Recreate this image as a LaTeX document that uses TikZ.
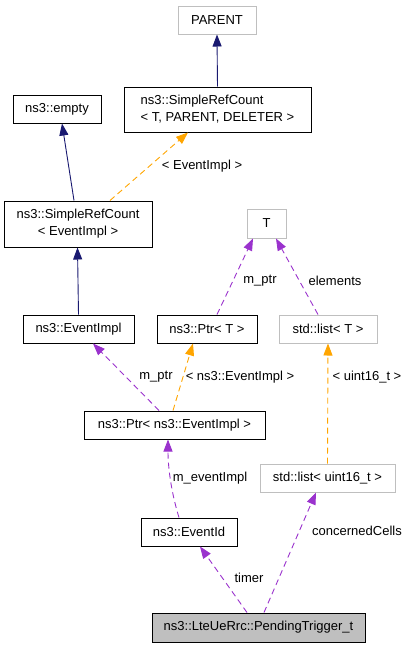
\documentclass[tikz,border=0pt]{standalone}
\usepackage{fontspec}
\setmainfont{Liberation Sans}
\usetikzlibrary{arrows.meta}
\definecolor{inhblue}{RGB}{25,25,112}
\definecolor{usepurple}{RGB}{154,50,205}
\definecolor{tplorange}{RGB}{255,165,0}
\definecolor{boxgray}{RGB}{191,191,191}
\tikzset{
  cls/.style={draw=black, line width=1pt, minimum height=28pt, inner sep=2pt, font=\fontsize{13}{17}\selectfont},
  ext/.style={cls, draw=boxgray},
  cur/.style={cls, fill=boxgray},
  tip/.style={-{Triangle[length=12pt,width=9pt]}},
  inh/.style={tip, draw=inhblue, line width=0.9pt},
  tpl/.style={tip, draw=tplorange, line width=0.9pt, dash pattern=on 6pt off 4pt},
  usage/.style={tip, draw=usepurple, line width=0.9pt, dash pattern=on 6pt off 4pt},
  elab/.style={inner sep=0pt, font=\fontsize{13}{15}\selectfont}
}
\newcommand{\elabel}[4]{\node[elab] (#1) at (#2,#3) {#4};}

\begin{document}
\begin{tikzpicture}[x=1pt,y=-1pt]
        \useasboundingbox (0,0) rectangle (409,648);
        %nodes
        \node[ext, minimum width=78pt] (parent) at (217,20) {PARENT};
        \node[cls, minimum width=187pt, minimum height=45pt, align=left] (srcTPD) at (217.5,109.5) {ns3::SimpleRefCount\\< T, PARENT, DELETER >};
        \node[cls, minimum width=88pt] (empty) at (57,109) {ns3::empty};
        \node[cls, minimum width=148pt, minimum height=46pt, align=center] (srcEI) at (78,224) {ns3::SimpleRefCount\\< EventImpl >};
        \node[ext, minimum width=39pt, minimum height=29pt] (tT) at (266.5,223.5) {T};
        \node[cls, minimum width=111pt] (eventImpl) at (78.5,329) {ns3::EventImpl};
        \node[cls, minimum width=100pt] (ptrT) at (207,329) {ns3::Ptr< T >};
        \node[ext, minimum width=98pt] (listT) at (328,329) {std::list< T >};
        \node[cls, minimum width=181pt] (ptrEI) at (174.5,425) {ns3::Ptr< ns3::EventImpl >};
        \node[ext, minimum width=135pt] (listU) at (327.5,478) {std::list< uint16\_t >};
        \node[cls, minimum width=96pt] (eventId) at (189,532) {ns3::EventId};
        \node[cur, minimum width=213pt, minimum height=29pt] (pending) at (258.5,627.5) {ns3::LteUeRrc::PendingTrigger\_t};
        %edges
        \draw[inh] (srcTPD.north) -- (parent.south);
        \draw[inh] ([xshift=-4pt]srcEI.north) -- ([xshift=5pt]empty.south);
        \draw[tpl] ([xshift=32pt]srcEI.north) -- ([xshift=-29.5pt]srcTPD.south);
        \draw[inh] (eventImpl.north) -- ([xshift=-0.5pt]srcEI.south);
        \draw[usage] ([xshift=10pt]ptrT.north) -- ([xshift=-13.5pt]tT.south);
        \draw[usage] ([xshift=-10pt]listT.north) -- ([xshift=9.5pt]tT.south);
        \draw[usage] ([xshift=-15.5pt]ptrEI.north) -- ([xshift=14.5pt]eventImpl.south);
        \draw[tpl] ([xshift=-1.5pt]ptrEI.north) -- ([xshift=-14pt]ptrT.south);
        \draw[tpl] (listU.north) -- (listT.south);
        \draw[usage] ([xshift=-10pt]eventId.north) .. controls (172,495) and (168,470) .. ([xshift=-6.5pt]ptrEI.south);
        \draw[usage] ([xshift=-11.5pt]pending.north) -- ([xshift=11pt]eventId.south);
        \draw[usage] ([xshift=5.5pt]pending.north) -- ([xshift=-11.5pt]listU.south);
        %labels
        \elabel{lEvImpl}{202}{166}{< EventImpl >}
        \elabel{lPtrA}{260}{281}{m\_ptr}
        \elabel{lElems}{335}{281}{elements}
        \elabel{lPtrB}{156}{377}{m\_ptr}
        \elabel{lNsEvImpl}{240}{377}{< ns3::EventImpl >}
        \elabel{lUint}{367}{377}{< uint16\_t >}
        \elabel{lEvent}{210}{478}{m\_eventImpl}
        \elabel{lTimer}{249}{578}{timer}
        \elabel{lCells}{357}{531}{concernedCells}
\end{tikzpicture}
\end{document}
